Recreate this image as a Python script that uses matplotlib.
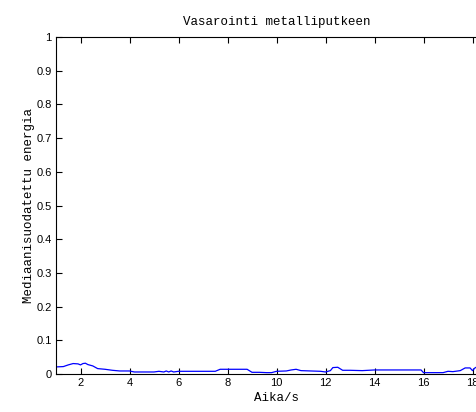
import matplotlib
matplotlib.use("Agg")
import matplotlib.pyplot as plt

# time (s) and median-filtered energy
aika = [1.0, 1.3, 1.5, 1.7, 1.9, 2.0, 2.1, 2.2, 2.3, 2.5, 2.7, 3.0, 3.3, 3.6, 4.0, 4.2, 4.5,
        5.0, 5.2, 5.4, 5.5, 5.6, 5.7, 5.8, 6.0, 6.5, 7.0, 7.5, 7.7, 8.0, 8.5, 8.8, 9.0,
        9.3, 9.6, 9.8, 10.0, 10.4, 10.6, 10.8, 11.0, 11.4, 11.8, 12.0, 12.2, 12.3, 12.5,
        12.7, 13.0, 13.5, 14.0, 15.0, 15.9, 16.0, 16.5, 16.8, 17.0, 17.2, 17.5, 17.7,
        17.9, 18.0, 18.1, 18.3]
energia = [0.021, 0.022, 0.027, 0.031, 0.030, 0.027, 0.031, 0.032, 0.028, 0.024, 0.016,
           0.014, 0.011, 0.009, 0.009, 0.006, 0.006, 0.006, 0.008, 0.006, 0.009, 0.006,
           0.009, 0.006, 0.008, 0.008, 0.008, 0.008, 0.014, 0.014, 0.014, 0.014, 0.005,
           0.005, 0.004, 0.004, 0.008, 0.009, 0.012, 0.014, 0.010, 0.009, 0.008, 0.006,
           0.010, 0.019, 0.020, 0.011, 0.011, 0.010, 0.012, 0.012, 0.012, 0.004, 0.004,
           0.004, 0.008, 0.007, 0.010, 0.018, 0.018, 0.010, 0.018, 0.026]

fig = plt.figure(figsize=(4.77, 4.12), dpi=100)
ax = fig.add_axes([56 / 477, 38 / 412, 441 / 477, 337 / 412])
ax.plot(aika, energia, color="#0000ff", linewidth=0.9)

ax.set_xlim(1, 19)
ax.set_ylim(0, 1)
ax.set_xticks([2, 4, 6, 8, 10, 12, 14, 16, 18])
ax.set_yticks([0, 0.1, 0.2, 0.3, 0.4, 0.5, 0.6, 0.7, 0.8, 0.9, 1])
ax.set_yticklabels(["0", "0.1", "0.2", "0.3", "0.4", "0.5", "0.6", "0.7", "0.8", "0.9", "1"])
ax.tick_params(direction="in", top=True, right=False, length=4, width=0.8,
               labelsize=8, pad=3)
for lab in ax.get_xticklabels() + ax.get_yticklabels():
    lab.set_family("Liberation Sans")
for side in ["left", "bottom", "top"]:
    ax.spines[side].set_linewidth(0.8)
ax.spines["right"].set_visible(False)

mono = "Liberation Mono"
ax.set_title("Vasarointi metalliputkeen", family=mono, fontsize=9, pad=9)
ax.set_xlabel("Aika/s", family=mono, fontsize=9, labelpad=3)
ax.set_ylabel("Mediaanisuodatettu energia", family=mono, fontsize=9, labelpad=1)

fig.savefig("out.png", dpi=100)
